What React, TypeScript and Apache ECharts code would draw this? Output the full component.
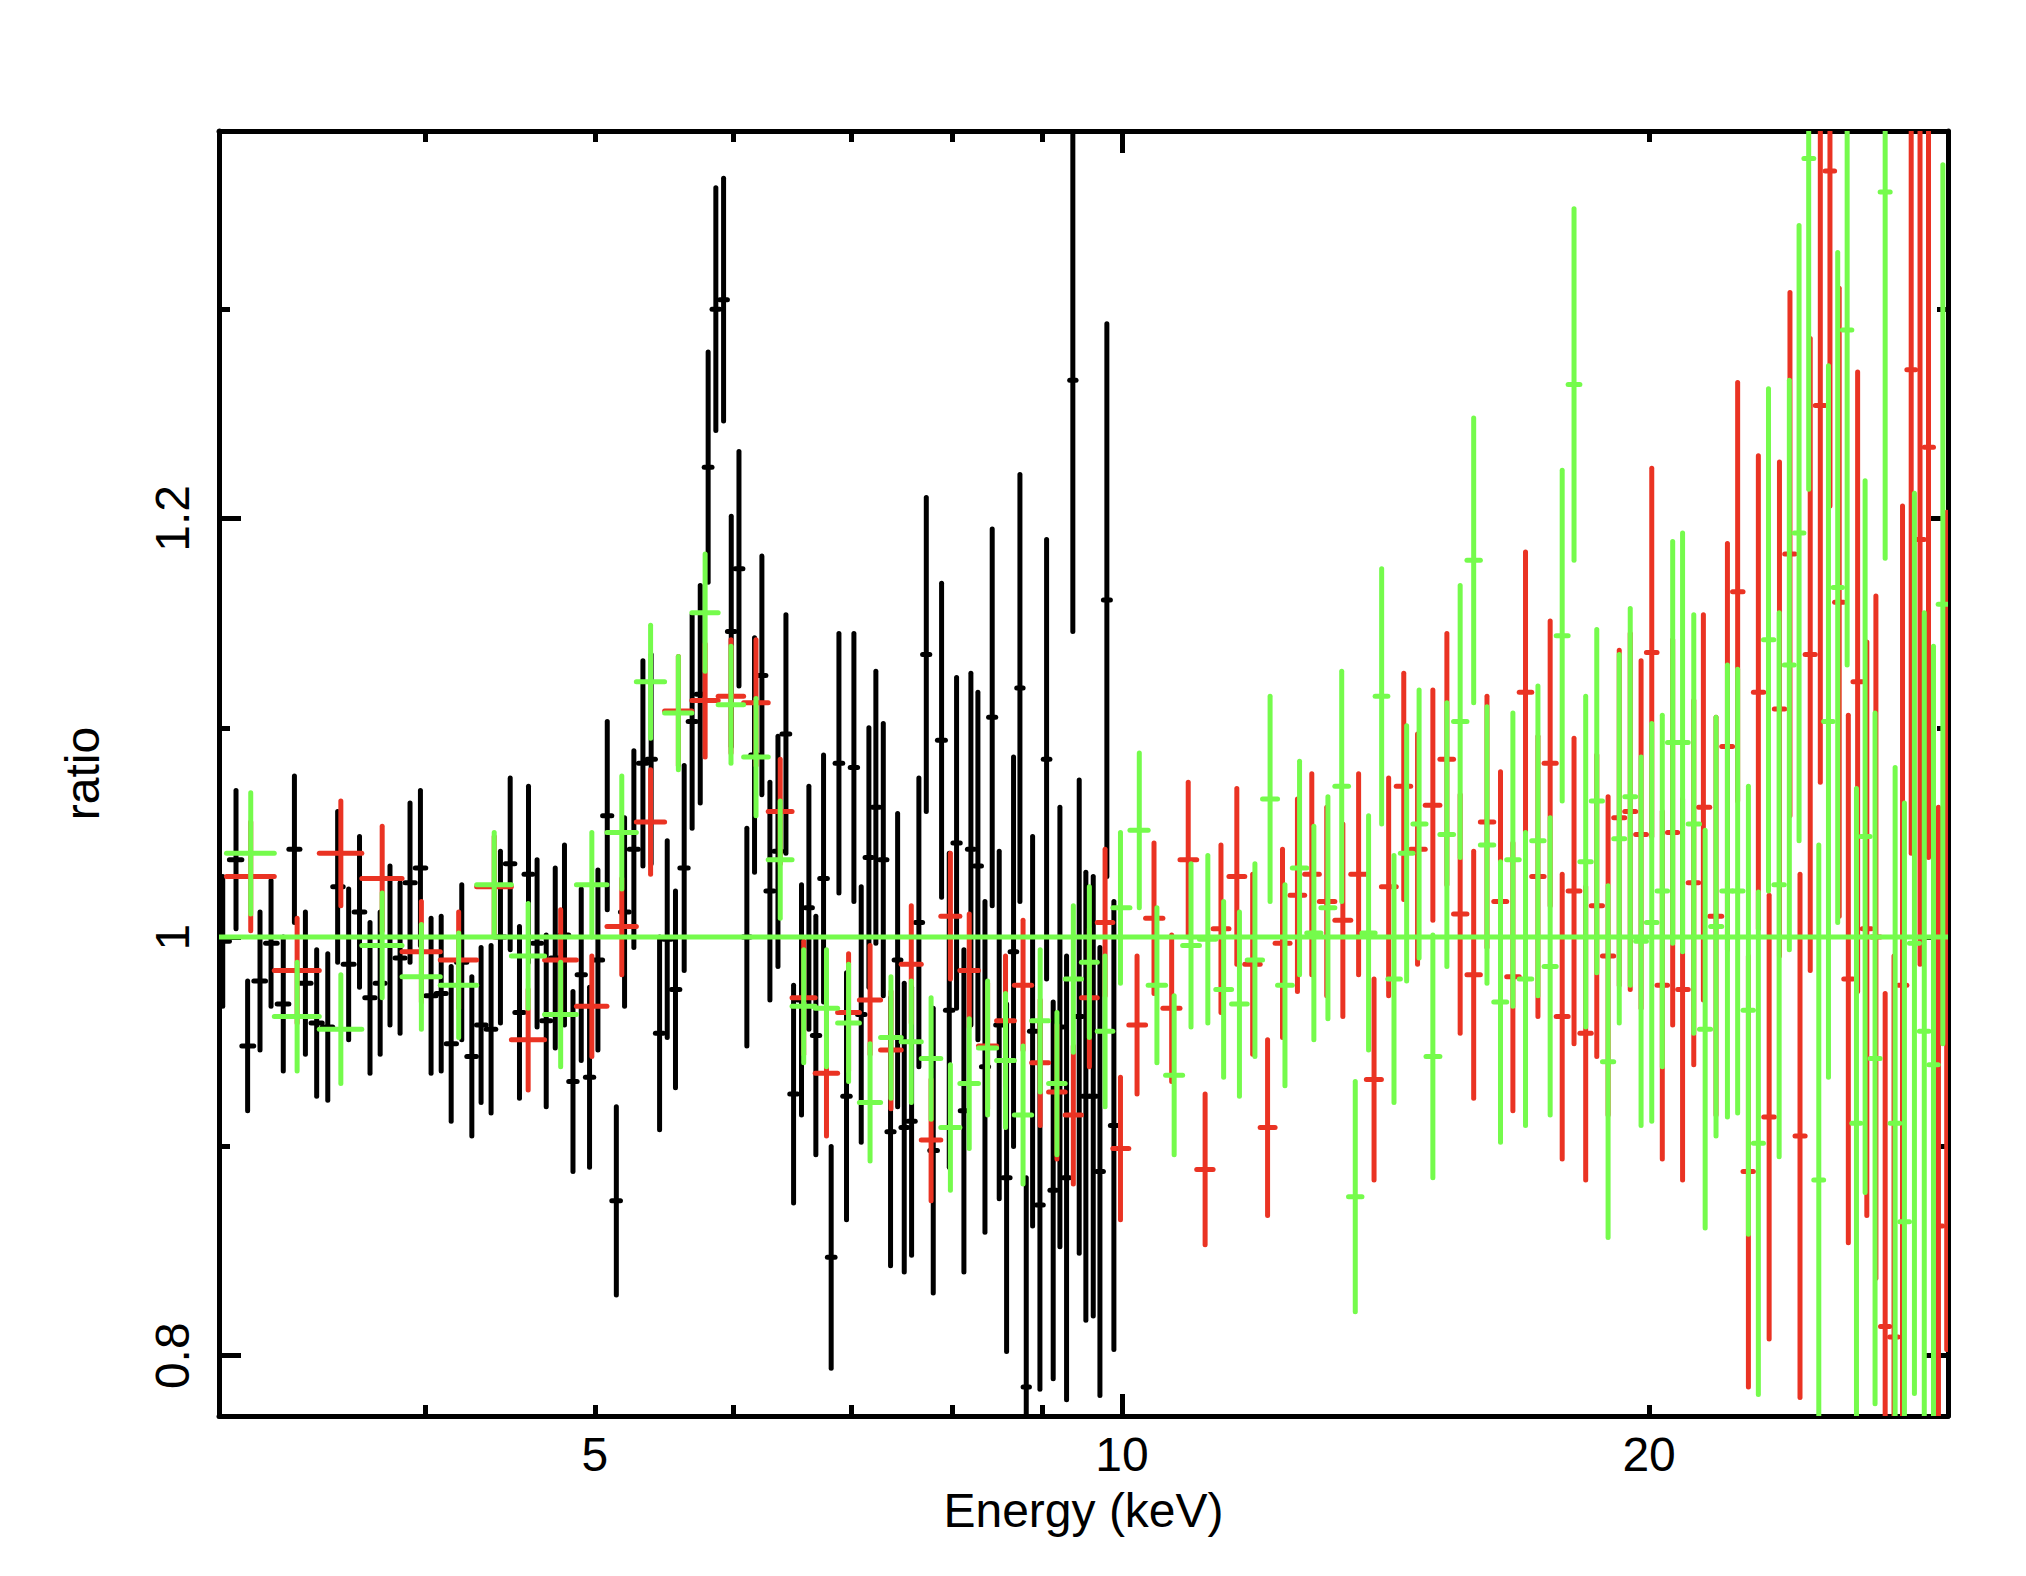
import React, { useEffect, useRef } from "react";
import * as echarts from "echarts";

// Axis ranges (keV, ratio)
const X_MIN = 3.05;
const X_MAX = 29.63;
const Y_MIN = 0.7712;
const Y_MAX = 1.3851;

// Tick positions and labels
const xMajorTicks = [10];
const xMinorTicks = [4, 5, 6, 7, 8, 9, 20];
const xTickLabels = [5, 10, 20];
const yMajorTicks = [0.8, 1.0, 1.2];
const yMinorTicks = [0.9, 1.1, 1.3];

const modelRatio = 1;

// Black data set (3-10 keV)
const blackEnergy = [
  3.065, 3.119, 3.167, 3.219, 3.266, 3.319, 3.368, 3.417, 3.468, 3.519, 3.565, 3.617, 3.669, 3.72, 3.77,
  3.819, 3.87, 3.921, 3.975, 4.031, 4.085, 4.139, 4.197, 4.253, 4.305, 4.362, 4.416, 4.473, 4.528, 4.582,
  4.634, 4.69, 4.746, 4.804, 4.858, 4.911, 4.965, 5.02, 5.082, 5.143, 5.199, 5.263, 5.326, 5.384, 5.444,
  5.499, 5.559, 5.623, 5.682, 5.743, 5.803, 5.862, 5.922, 5.982, 6.043, 6.106, 6.168, 6.228, 6.294, 6.361,
  6.428, 6.493, 6.561, 6.625, 6.686, 6.754, 6.822, 6.892, 6.961, 7.029, 7.097, 7.169, 7.235, 7.306, 7.376,
  7.445, 7.51, 7.583, 7.656, 7.731, 7.802, 7.888, 7.968, 8.045, 8.123, 8.198, 8.274, 8.351, 8.431, 8.509,
  8.592, 8.671, 8.744, 8.817, 8.891, 8.977, 9.056, 9.135, 9.216, 9.297, 9.374, 9.453, 9.536, 9.629, 9.714,
  9.803, 9.894,
];
const blackRatio = [
  0.998, 1.037, 0.948, 0.979, 0.997, 0.968, 1.042, 0.978, 0.959, 0.957, 1.024, 0.987, 1.012, 0.971, 0.978,
  0.996, 0.99, 1.026, 1.033, 0.972, 0.973, 0.949, 0.988, 0.943, 0.958, 0.956, 1.0, 1.035, 0.964, 1.03,
  0.997, 0.96, 0.99, 1.001, 0.931, 0.982, 0.933, 0.989, 1.058, 0.874, 1.012, 1.042, 1.083, 1.085, 0.954,
  0.999, 0.975, 1.033, 1.103, 1.116, 1.2245, 1.3, 1.3045, 1.146, 1.176, 1.0, 1.087, 1.125, 1.022, 1.041,
  1.097, 0.925, 0.97, 1.014, 0.953, 1.028, 0.847, 1.083, 0.924, 1.081, 0.963, 1.038, 1.062, 1.037, 0.907,
  0.989, 0.909, 0.912, 1.007, 1.135, 0.898, 1.094, 0.965, 1.045, 0.917, 1.042, 1.034, 0.938, 1.105, 0.958,
  0.885, 0.993, 1.119, 0.785, 0.955, 0.872, 1.085, 0.879, 0.957, 0.885, 1.266, 0.962, 0.924, 0.924, 0.888,
  1.161, 0.91,
];
const blackError = [
  0.031, 0.033, 0.031, 0.033, 0.03, 0.032, 0.035, 0.034, 0.035, 0.035, 0.036, 0.036, 0.036, 0.036, 0.034,
  0.038, 0.036, 0.038, 0.037, 0.037, 0.037, 0.037, 0.037, 0.038, 0.037, 0.04, 0.041, 0.041, 0.041, 0.042,
  0.04, 0.041, 0.043, 0.043, 0.043, 0.041, 0.043, 0.043, 0.045, 0.045, 0.045, 0.047, 0.049, 0.05, 0.046,
  0.047, 0.047, 0.049, 0.051, 0.052, 0.055, 0.058, 0.058, 0.055, 0.056, 0.052, 0.056, 0.057, 0.052, 0.055,
  0.057, 0.052, 0.055, 0.058, 0.057, 0.059, 0.053, 0.062, 0.059, 0.064, 0.061, 0.062, 0.065, 0.065, 0.064,
  0.07, 0.069, 0.064, 0.069, 0.075, 0.068, 0.075, 0.075, 0.079, 0.077, 0.084, 0.083, 0.079, 0.09, 0.083,
  0.083, 0.093, 0.102, 0.1, 0.093, 0.088, 0.105, 0.09, 0.105, 0.106, 0.12, 0.113, 0.107, 0.105, 0.107,
  0.132, 0.107,
];

// Red data set (3-30 keV)
const redEnergy = [
  3.18, 3.38, 3.58, 3.78, 3.98, 4.18, 4.38, 4.58, 4.78, 4.98, 5.18, 5.38, 5.58, 5.78, 5.98, 6.18, 6.38,
  6.58, 6.78, 6.98, 7.18, 7.38, 7.58, 7.78, 7.98, 8.18, 8.38, 8.58, 8.78, 8.98, 9.18, 9.38, 9.58, 9.78,
  9.98, 10.2, 10.43, 10.675, 10.91, 11.155, 11.39, 11.63, 11.875, 12.11, 12.35, 12.595, 12.835, 13.09,
  13.37, 13.65, 13.93, 14.2, 14.485, 14.75, 15.05, 15.33, 15.6, 15.88, 16.16, 16.45, 16.72, 17.0, 17.28,
  17.56, 17.84, 18.12, 18.4, 18.67, 18.95, 19.23, 19.51, 19.79, 20.07, 20.35, 20.63, 20.9, 21.21, 21.48,
  21.84, 22.17, 22.47, 22.79, 23.09, 23.42, 23.74, 24.07, 24.39, 24.72, 25.05, 25.37, 25.68, 25.99, 26.31,
  26.63, 26.95, 27.28, 27.6, 27.91, 28.23, 28.56, 28.88, 29.26, 29.58,
];
const redRatio = [
  1.029, 0.984, 1.04, 1.028, 0.993, 0.989, 1.024, 0.951, 0.989, 0.967, 1.005, 1.055, 1.108, 1.113, 1.115,
  1.112, 1.06, 0.971, 0.935, 0.964, 0.97, 0.946, 0.987, 0.903, 1.01, 0.984, 0.948, 0.96, 0.977, 0.94,
  0.926, 0.915, 0.971, 1.007, 0.899, 0.958, 1.009, 0.966, 1.037, 0.889, 1.004, 1.029, 0.987, 0.909, 0.997,
  1.02, 1.03, 1.017, 1.008, 1.03, 0.932, 1.024, 1.072, 1.042, 1.063, 1.085, 1.011, 0.982, 1.055, 1.017,
  0.981, 1.117, 1.029, 1.083, 0.962, 1.022, 0.954, 1.015, 0.991, 1.057, 1.06, 1.049, 1.136, 0.977, 1.05,
  0.975, 1.026, 1.062, 1.01, 1.091, 1.165, 0.888, 1.117, 0.914, 1.109, 1.183, 0.905, 1.135, 1.254, 1.366,
  1.16, 0.98, 1.122, 1.004, 1.0, 0.814, 0.809, 0.977, 1.271, 1.19, 1.234, 0.862, 1.003,
];
const redError = [
  0.026, 0.025, 0.025, 0.025, 0.024, 0.023, 0.024, 0.024, 0.024, 0.024, 0.023, 0.025, 0.026, 0.027, 0.027,
  0.03, 0.025, 0.027, 0.03, 0.028, 0.026, 0.028, 0.028, 0.029, 0.03, 0.027, 0.03, 0.031, 0.031, 0.03,
  0.032, 0.033, 0.033, 0.035, 0.034, 0.033, 0.036, 0.035, 0.037, 0.036, 0.04, 0.042, 0.043, 0.042, 0.045,
  0.046, 0.048, 0.045, 0.046, 0.048, 0.048, 0.052, 0.054, 0.055, 0.055, 0.06, 0.057, 0.059, 0.06, 0.062,
  0.064, 0.067, 0.067, 0.068, 0.068, 0.073, 0.07, 0.072, 0.076, 0.08, 0.085, 0.083, 0.088, 0.083, 0.092,
  0.091, 0.087, 0.092, 0.095, 0.097, 0.1, 0.103, 0.113, 0.106, 0.118, 0.125, 0.125, 0.151, 0.18, 0.16,
  0.15, 0.126, 0.148, 0.137, 0.163, 0.159, 0.182, 0.229, 0.231, 0.203, 0.196, 0.2, 0.2,
];

// Green data set (3-30 keV)
const greenEnergy = [
  3.18, 3.38, 3.58, 3.78, 3.98, 4.18, 4.38, 4.58, 4.78, 4.98, 5.18, 5.38, 5.58, 5.78, 5.98, 6.18, 6.38,
  6.58, 6.78, 6.98, 7.18, 7.38, 7.58, 7.78, 7.98, 8.18, 8.38, 8.58, 8.78, 8.98, 9.18, 9.38, 9.58, 9.78,
  9.98, 10.23, 10.47, 10.71, 10.95, 11.195, 11.43, 11.67, 11.91, 12.15, 12.39, 12.63, 12.87, 13.11, 13.35,
  13.59, 13.83, 14.07, 14.3, 14.54, 14.78, 15.05, 15.33, 15.6, 15.88, 16.16, 16.45, 16.72, 17.0, 17.28,
  17.56, 17.84, 18.12, 18.4, 18.67, 18.95, 19.23, 19.51, 19.79, 20.07, 20.35, 20.63, 20.9, 21.21, 21.53,
  21.84, 22.17, 22.47, 22.79, 23.09, 23.4, 23.73, 24.05, 24.36, 24.67, 25.0, 25.32, 25.63, 25.95, 26.27,
  26.57, 26.92, 27.28, 27.64, 27.98, 28.35, 28.72, 29.07, 29.43,
];
const greenRatio = [
  1.04, 0.962, 0.956, 0.996, 0.981, 0.977, 1.025, 0.991, 0.963, 1.025, 1.05, 1.122, 1.107, 1.155, 1.111,
  1.086, 1.037, 0.967, 0.966, 0.959, 0.921, 0.952, 0.95, 0.942, 0.909, 0.93, 0.947, 0.941, 0.915, 0.96,
  0.93, 0.98, 0.988, 0.955, 1.014, 1.051, 0.977, 0.934, 0.996, 0.999, 0.975, 0.968, 0.989, 1.066, 0.977,
  1.033, 1.002, 1.014, 1.072, 0.876, 1.002, 1.115, 0.98, 1.04, 1.054, 0.943, 1.049, 1.103, 1.18, 1.044,
  0.969, 1.037, 0.98, 1.046, 0.986, 1.144, 1.264, 1.036, 1.065, 0.9405, 1.047, 1.067, 0.998, 1.007, 1.022,
  1.093, 1.093, 1.054, 0.956, 1.005, 1.022, 1.022, 0.965, 0.9015, 1.142, 1.025, 1.13, 1.193, 1.372, 0.884,
  1.103, 1.167, 1.29, 0.911, 1.048, 0.942, 1.356, 0.911, 0.864, 0.997, 0.955, 0.939, 1.159,
];
const greenError = [
  0.029, 0.026, 0.026, 0.025, 0.025, 0.025, 0.025, 0.025, 0.025, 0.025, 0.027, 0.027, 0.027, 0.028, 0.028,
  0.028, 0.028, 0.027, 0.028, 0.028, 0.028, 0.029, 0.029, 0.029, 0.03, 0.031, 0.032, 0.032, 0.033, 0.034,
  0.034, 0.035, 0.036, 0.036, 0.036, 0.037, 0.037, 0.038, 0.039, 0.04, 0.042, 0.044, 0.046, 0.049, 0.048,
  0.051, 0.051, 0.053, 0.055, 0.055, 0.056, 0.061, 0.059, 0.061, 0.064, 0.058, 0.063, 0.065, 0.068, 0.066,
  0.067, 0.07, 0.07, 0.074, 0.071, 0.079, 0.084, 0.079, 0.082, 0.084, 0.088, 0.09, 0.088, 0.095, 0.084,
  0.096, 0.1, 0.1, 0.095, 0.1, 0.108, 0.106, 0.107, 0.12, 0.12, 0.13, 0.136, 0.147, 0.158, 0.16,
  0.17, 0.16, 0.16, 0.16, 0.17, 0.165, 0.175, 0.17, 0.2, 0.215, 0.2, 0.2, 0.21,
];

const BLACK = "#000000";
const RED = "#EA3323";
const GREEN = "#75FB4C";
const FONT = "'Liberation Sans', Arial, Helvetica, sans-serif";
const DATA_WIDTH = 5;
const FRAME_WIDTH = 5;

const lg = (v: number) => Math.log10(v);

// bin edges as midpoints between neighbouring bin centres
function buildBars(energy: number[], ratio: number[], err: number[]) {
  const n = energy.length;
  return energy.map((e, i) => {
    const lo = i > 0 ? (energy[i - 1] + e) / 2 : e - (energy[i + 1] - e) / 2;
    const hi = i < n - 1 ? (e + energy[i + 1]) / 2 : e + (e - energy[i - 1]) / 2;
    return [lg(e), ratio[i], lg(lo), lg(hi), ratio[i] - err[i], ratio[i] + err[i]];
  });
}

function errorSeries(name: string, color: string, data: number[][]) {
  return {
    type: "custom",
    name,
    data,
    clip: true,
    xAxisIndex: 0,
    yAxisIndex: 0,
    encode: { x: 0, y: 1 },
    renderItem: (_params: any, api: any) => {
      const l = api.coord([api.value(2), api.value(1)]);
      const r = api.coord([api.value(3), api.value(1)]);
      const b = api.coord([api.value(0), api.value(4)]);
      const t = api.coord([api.value(0), api.value(5)]);
      const style = { stroke: color, lineWidth: DATA_WIDTH, lineCap: "round" };
      return {
        type: "group",
        children: [
          { type: "line", shape: { x1: l[0], y1: l[1], x2: r[0], y2: r[1] }, style },
          { type: "line", shape: { x1: b[0], y1: b[1], x2: t[0], y2: t[1] }, style },
        ],
      };
    },
  };
}

const lineStyle = { color: BLACK, width: FRAME_WIDTH };

function xAxisDef(position: "bottom" | "top", major: boolean, withLabels: boolean, withLine: boolean) {
  return {
    type: "value",
    position,
    min: lg(X_MIN),
    max: lg(X_MAX),
    axisLine: { show: withLine, onZero: false, lineStyle },
    axisTick: {
      show: true,
      inside: true,
      length: major ? 22 : 11,
      customValues: (major ? xMajorTicks : xMinorTicks).map(lg),
      lineStyle,
    },
    axisLabel: {
      show: withLabels,
      customValues: xTickLabels.map(lg),
      formatter: (v: number) => String(Math.round(Math.pow(10, v))),
      fontSize: 48,
      fontFamily: FONT,
      color: BLACK,
      margin: 14,
    },
    splitLine: { show: false },
    ...(withLabels
      ? {
          name: "Energy (keV)",
          nameLocation: "middle",
          nameGap: 70,
          nameTextStyle: { fontSize: 48, fontFamily: FONT, color: BLACK },
        }
      : {}),
  };
}

function yAxisDef(position: "left" | "right", major: boolean, withLabels: boolean, withLine: boolean) {
  return {
    type: "value",
    position,
    min: Y_MIN,
    max: Y_MAX,
    axisLine: { show: withLine, onZero: false, lineStyle },
    axisTick: {
      show: true,
      inside: true,
      length: major ? 22 : 11,
      customValues: major ? yMajorTicks : yMinorTicks,
      lineStyle,
    },
    axisLabel: {
      show: withLabels,
      customValues: yMajorTicks,
      rotate: 90,
      formatter: (v: number) => (Math.abs(v - 1) < 1e-9 ? "1" : v.toFixed(1)),
      fontSize: 48,
      fontFamily: FONT,
      color: BLACK,
      margin: 23,
    },
    splitLine: { show: false },
    ...(withLabels
      ? {
          name: "ratio",
          nameLocation: "middle",
          nameGap: 113,
          nameRotate: 90,
          nameTextStyle: { fontSize: 48, fontFamily: FONT, color: BLACK },
        }
      : {}),
  };
}

export default function App() {
  const ref = useRef<HTMLDivElement>(null);

  useEffect(() => {
    document.body.style.margin = "0";
    if (!ref.current) return;
    const chart = echarts.init(ref.current, null, { renderer: "svg" });
    const option: any = {
      animation: false,
      backgroundColor: "#ffffff",
      textStyle: { fontFamily: FONT },
      grid: { left: 219, top: 131, width: 1729, height: 1285, containLabel: false },
      xAxis: [
        xAxisDef("bottom", true, true, true),
        xAxisDef("bottom", false, false, false),
        xAxisDef("top", true, false, true),
        xAxisDef("top", false, false, false),
      ],
      yAxis: [
        yAxisDef("left", true, true, true),
        yAxisDef("left", false, false, false),
        yAxisDef("right", true, false, true),
        yAxisDef("right", false, false, false),
      ],
      series: [
        errorSeries("black", BLACK, buildBars(blackEnergy, blackRatio, blackError)),
        errorSeries("red", RED, buildBars(redEnergy, redRatio, redError)),
        errorSeries("green", GREEN, buildBars(greenEnergy, greenRatio, greenError)),
        {
          type: "line",
          name: "model",
          xAxisIndex: 0,
          yAxisIndex: 0,
          data: [
            [lg(X_MIN), modelRatio],
            [lg(X_MAX), modelRatio],
          ],
          symbol: "none",
          lineStyle: { color: GREEN, width: DATA_WIDTH },
          silent: true,
        },
      ],
    };
    chart.setOption(option);
    return () => chart.dispose();
  }, []);

  return <div ref={ref} style={{ width: 2026, height: 1576 }} />;
}
